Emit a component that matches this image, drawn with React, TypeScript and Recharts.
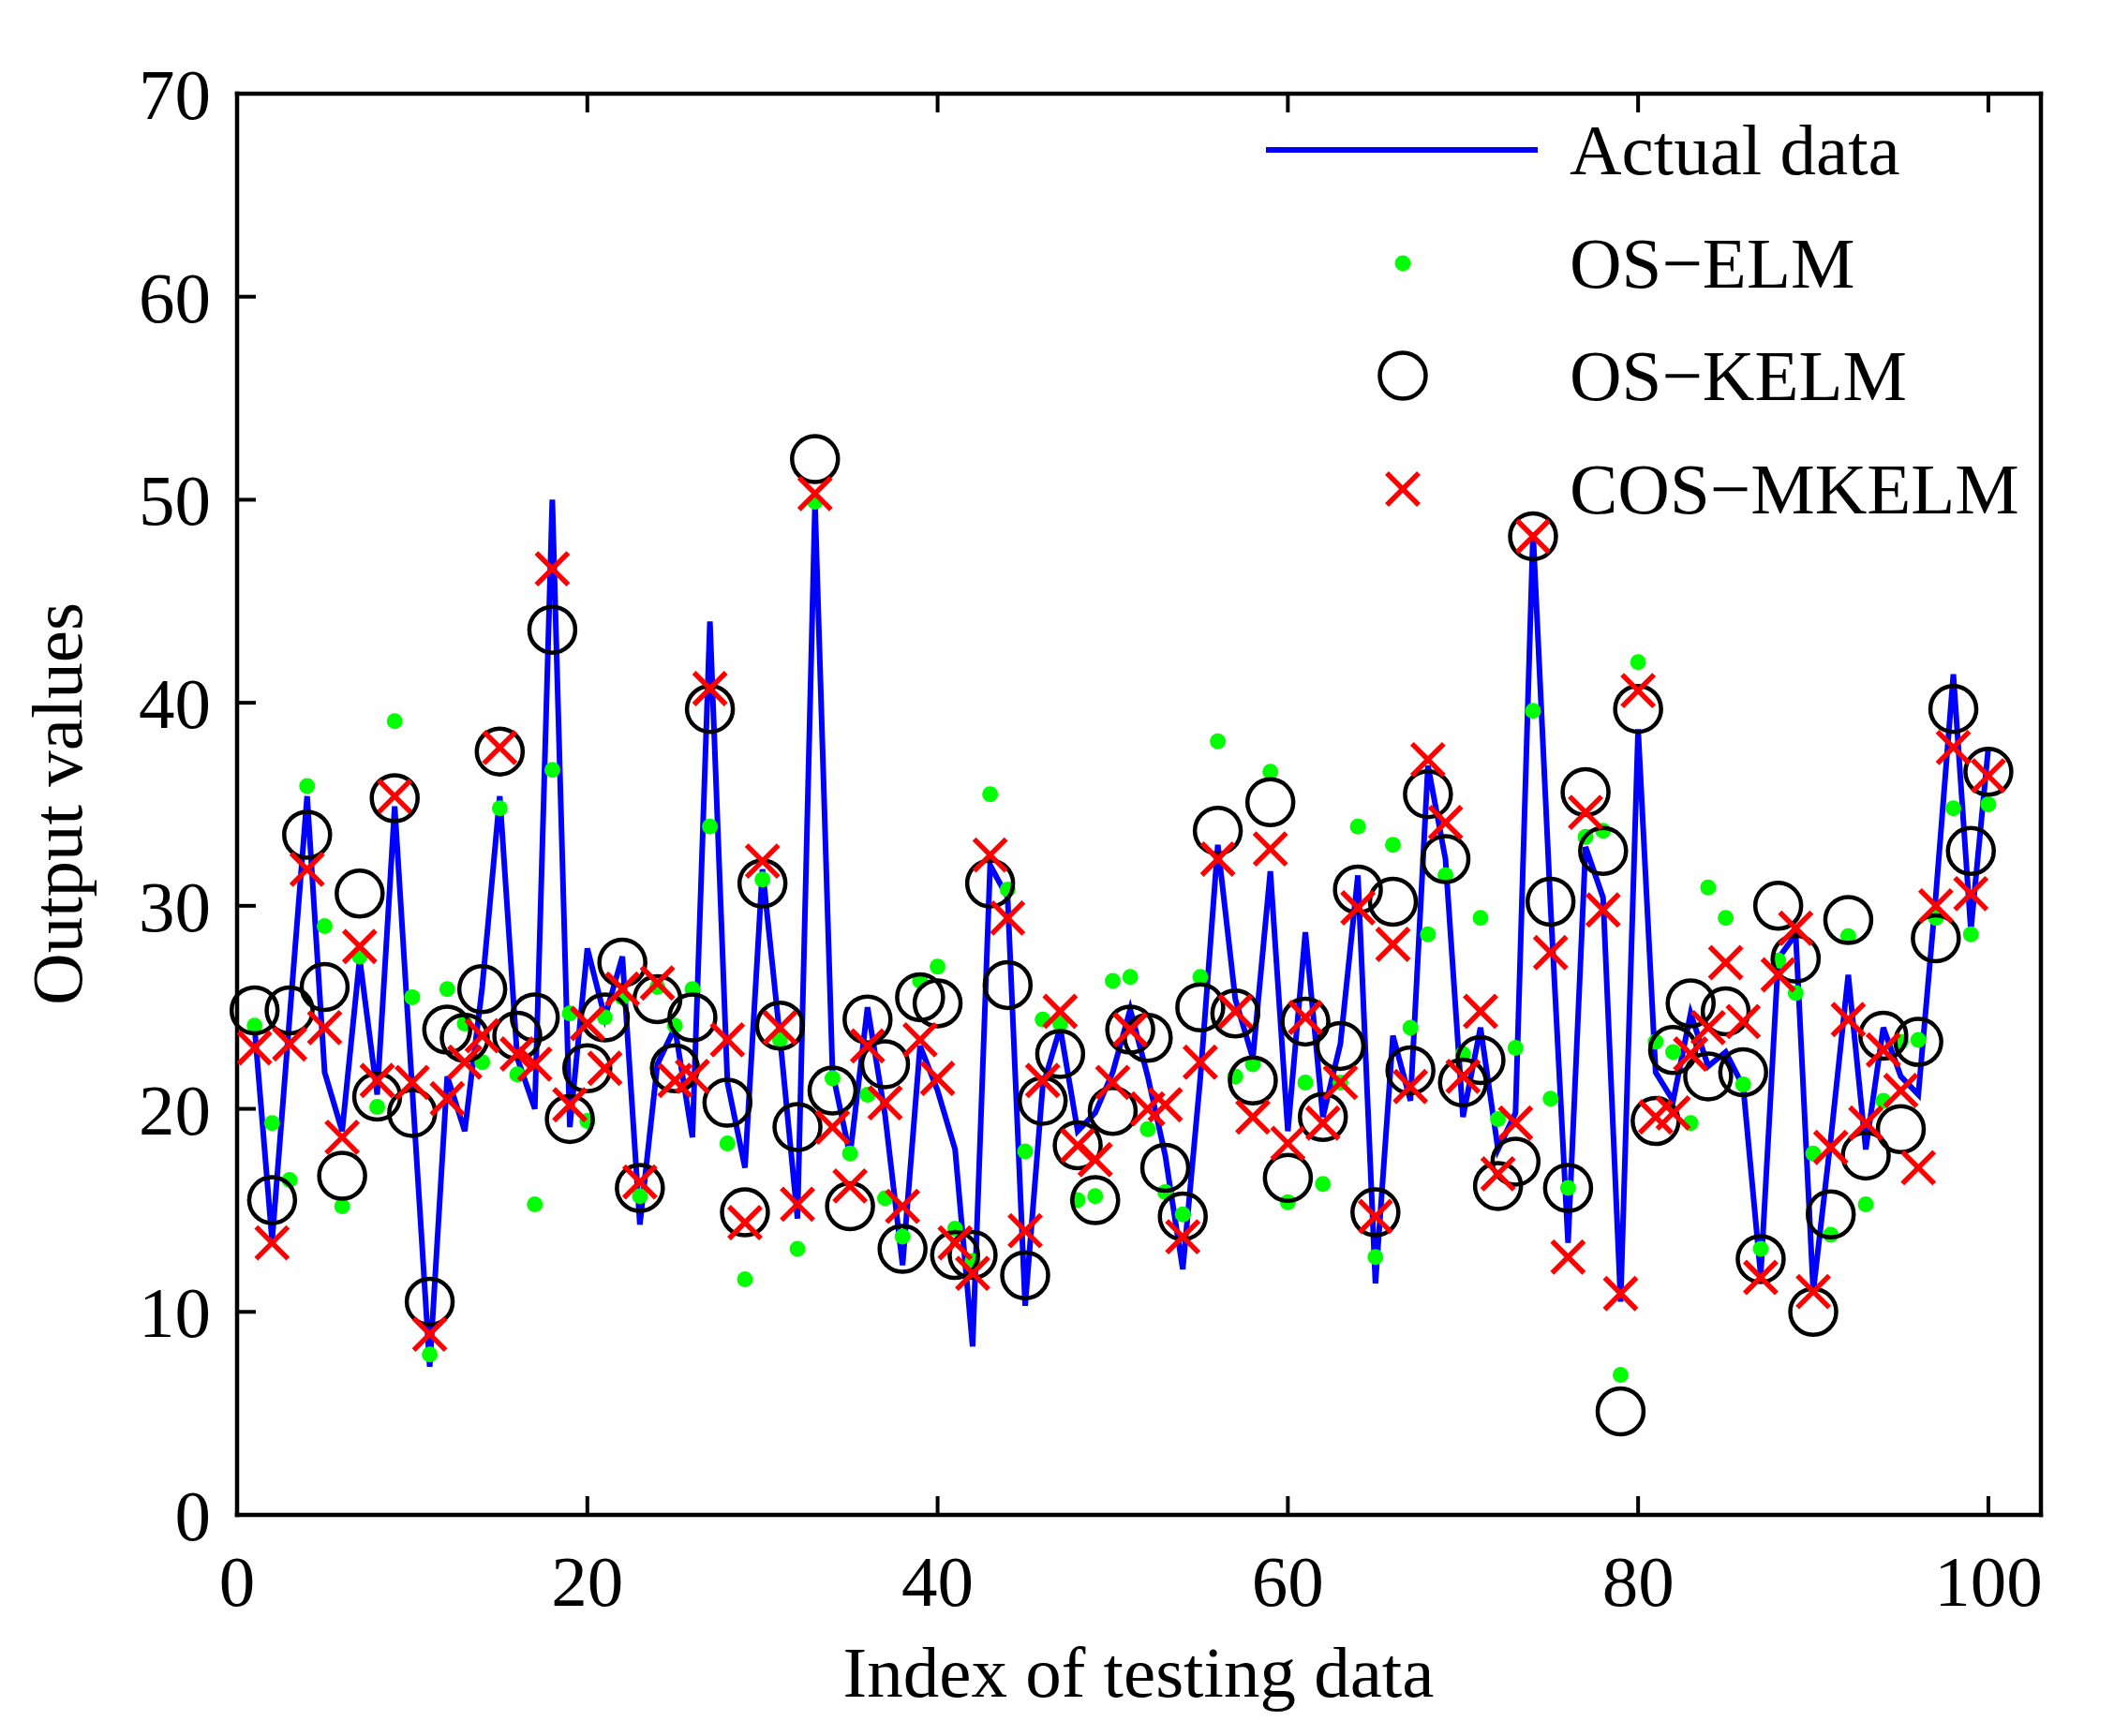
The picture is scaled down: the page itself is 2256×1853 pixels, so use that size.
import React from 'react';
import { LineChart, Line, XAxis, YAxis } from 'recharts';

// values, index 1..100
const actualData = [
  24.0, 13.5, 24.5, 35.4, 21.8, 18.9, 27.4, 20.7, 34.9, 21.0,
  7.3, 21.6, 18.9, 26.0, 35.4, 22.5, 20.0, 50.0, 19.1, 27.9,
  24.5, 27.5, 14.3, 22.2, 24.0, 18.6, 44.0, 21.3, 17.1, 31.8,
  23.5, 14.6, 49.8, 21.8, 17.7, 25.0, 19.7, 12.3, 23.1, 20.9,
  18.0, 8.3, 32.0, 30.4, 10.3, 21.1, 24.0, 18.9, 19.8, 21.8,
  24.9, 21.6, 17.7, 12.1, 21.5, 33.0, 25.4, 22.5, 31.7, 18.9,
  28.7, 19.6, 23.2, 31.5, 11.4, 23.6, 20.4, 36.9, 32.3, 19.6,
  24.0, 18.0, 19.8, 48.4, 30.0, 13.4, 32.9, 30.4, 10.5, 38.7,
  21.8, 20.4, 24.7, 22.1, 22.8, 21.1, 11.8, 27.4, 28.6, 11.0,
  18.5, 26.6, 18.0, 24.0, 21.6, 20.7, 30.5, 41.4, 28.8, 37.8,
];

const osElm = [
  24.1, 19.3, 16.5, 35.9, 29.0, 15.2, 27.5, 20.1, 39.1, 25.5,
  7.9, 25.9, 24.2, 22.3, 34.8, 21.7, 15.3, 36.7, 24.7, 19.4,
  24.5, 25.5, 15.7, 26.0, 24.1, 25.9, 33.9, 18.3, 11.6, 31.3,
  23.4, 13.1, 49.9, 21.5, 17.8, 20.7, 15.6, 13.7, 26.3, 27.0,
  14.1, 12.5, 35.5, 30.8, 17.9, 24.4, 24.2, 15.5, 15.7, 26.3,
  26.5, 19.0, 15.9, 14.8, 26.5, 38.1, 21.6, 22.2, 36.6, 15.4,
  21.3, 16.3, 21.3, 33.9, 12.7, 33.0, 24.0, 28.6, 31.5, 22.7,
  29.4, 19.5, 23.0, 39.6, 20.5, 16.1, 33.4, 33.7, 6.9, 42.0,
  23.3, 22.8, 19.3, 30.9, 29.4, 21.2, 13.1, 27.3, 25.7, 17.8,
  13.8, 28.5, 15.3, 20.4, 23.3, 23.4, 29.4, 34.8, 28.6, 35.0,
];

const osKelm = [
  24.85, 15.5, 24.85, 33.5, 26.0, 16.7, 30.6, 20.6, 35.3, 19.8,
  10.5, 23.9, 23.5, 25.9, 37.6, 23.6, 24.5, 43.6, 19.5, 22.0,
  24.5, 27.2, 16.1, 25.4, 22.0, 24.5, 39.7, 20.3, 14.9, 31.1,
  24.1, 19.1, 52.0, 20.9, 15.2, 24.4, 22.2, 13.1, 25.5, 25.2,
  12.8, 12.8, 31.1, 26.1, 11.8, 20.4, 22.7, 18.2, 15.5, 19.9,
  23.9, 23.5, 17.1, 14.7, 25.0, 33.7, 24.7, 21.4, 35.1, 16.6,
  24.3, 19.6, 23.1, 30.8, 14.9, 30.2, 21.9, 35.5, 32.3, 21.3,
  22.4, 16.2, 17.4, 48.2, 30.2, 16.1, 35.6, 32.7, 5.1, 39.7,
  19.4, 22.9, 25.2, 21.6, 24.8, 21.8, 12.6, 30.0, 27.4, 10.0,
  14.8, 29.3, 17.7, 23.6, 19.0, 23.3, 28.4, 39.7, 32.7, 36.6,
];

const cosMkelm = [
  23.0, 13.4, 23.2, 31.8, 24.0, 18.6, 28.0, 21.4, 35.4, 21.3,
  8.9, 20.5, 22.3, 23.6, 37.8, 22.7, 22.2, 46.6, 20.2, 24.2,
  22.0, 25.9, 16.4, 26.2, 21.4, 21.6, 40.7, 23.4, 14.4, 32.2,
  24.0, 15.3, 50.3, 19.1, 16.2, 23.1, 20.3, 15.2, 23.4, 21.5,
  13.4, 11.9, 32.5, 29.4, 14.0, 21.4, 24.8, 18.2, 17.5, 21.3,
  23.9, 20.0, 20.2, 13.7, 22.3, 32.3, 24.8, 19.6, 32.8, 18.3,
  24.5, 19.3, 21.3, 29.9, 14.7, 28.1, 21.1, 37.2, 34.1, 21.6,
  24.8, 16.8, 19.3, 48.2, 27.7, 12.7, 34.6, 29.8, 10.9, 40.6,
  19.6, 19.8, 22.7, 24.0, 27.2, 24.3, 11.7, 26.6, 28.9, 11.0,
  18.1, 24.4, 19.3, 22.9, 20.9, 17.1, 30.0, 37.8, 30.6, 36.4,
];

const xTicks = [0, 20, 40, 60, 80, 100];
const yTicks = [0, 10, 20, 30, 40, 50, 60, 70];

const FONT = "'Liberation Serif', 'Times New Roman', serif";
const FS = 77;
const TICK = 20;

const rows = actualData.map((v, i) => ({
  idx: i + 1,
  actual: v,
  elm: osElm[i],
  kelm: osKelm[i],
  mkelm: cosMkelm[i],
}));

const axisLine = { stroke: '#000', strokeWidth: 4.5, strokeLinecap: 'square' as const };

const BottomTick = (p: any) => (
  <g>
    <line x1={p.x} y1={p.y} x2={p.x} y2={p.y - TICK} stroke="#000" strokeWidth={4} />
    <text x={p.x} y={p.y + 97} textAnchor="middle" fontSize={FS} fontFamily={FONT} fill="#000">
      {p.payload.value}
    </text>
  </g>
);

const TopTick = (p: any) => (
  <line x1={p.x} y1={p.y} x2={p.x} y2={p.y + TICK} stroke="#000" strokeWidth={4} />
);

const LeftTick = (p: any) => (
  <g>
    <line x1={p.x} y1={p.y} x2={p.x + TICK} y2={p.y} stroke="#000" strokeWidth={4} />
    <text x={225} y={p.y + 27} textAnchor="end" fontSize={FS} fontFamily={FONT} fill="#000">
      {p.payload.value}
    </text>
  </g>
);

const RightTick = (p: any) => (
  <line x1={p.x} y1={p.y} x2={p.x - TICK} y2={p.y} stroke="#000" strokeWidth={4} />
);

const greenDot = (cx: number, cy: number, key?: string) => (
  <circle key={key} cx={cx} cy={cy} r={8.5} fill="#00ff00" />
);
const ring = (cx: number, cy: number, key?: string) => (
  <circle key={key} cx={cx} cy={cy} r={24.5} fill="none" stroke="#000" strokeWidth={4.5} />
);
const cross = (cx: number, cy: number, key?: string) => (
  <g key={key}>
    <line x1={cx - 17} y1={cy - 17} x2={cx + 17} y2={cy + 17} stroke="#ff0000" strokeWidth={5.5} />
    <line x1={cx - 17} y1={cy + 17} x2={cx + 17} y2={cy - 17} stroke="#ff0000" strokeWidth={5.5} />
  </g>
);

const dotRenderer = (draw: typeof ring, name: string) => (props: any) => {
  const { cx, cy, index } = props;
  if (cx == null || cy == null) return <g key={`${name}-${index}`} />;
  return draw(cx, cy, `${name}-${index}`);
};

const legendRows = [
  { label: 'Actual data', y: 160 },
  { label: 'OS\u2212ELM', y: 281 },
  { label: 'OS\u2212KELM', y: 401 },
  { label: 'COS\u2212MKELM', y: 522 },
];

export default function App() {
  return (
    <div style={{ position: 'absolute', left: 0, top: 0, width: 2256, height: 1853, background: '#fff' }}>
      <LineChart
        width={2256}
        height={1853}
        data={rows}
        margin={{ top: 99, right: 77, bottom: 235, left: 252 }}
      >
        <XAxis
          dataKey="idx"
          type="number"
          domain={[0, 103]}
          ticks={xTicks}
          interval={0}
          height={1}
          tickSize={0}
          tickMargin={0}
          tickLine={false}
          axisLine={axisLine}
          tick={BottomTick}
        />
        <XAxis
          xAxisId="top"
          orientation="top"
          dataKey="idx"
          type="number"
          domain={[0, 103]}
          ticks={xTicks}
          interval={0}
          height={1}
          tickSize={0}
          tickMargin={0}
          tickLine={false}
          axisLine={axisLine}
          tick={TopTick}
        />
        <YAxis
          type="number"
          domain={[0, 70]}
          ticks={yTicks}
          interval={0}
          width={1}
          tickSize={0}
          tickMargin={0}
          tickLine={false}
          axisLine={axisLine}
          tick={LeftTick}
        />
        <YAxis
          yAxisId="right"
          orientation="right"
          type="number"
          domain={[0, 70]}
          ticks={yTicks}
          interval={0}
          width={1}
          tickSize={0}
          tickMargin={0}
          tickLine={false}
          axisLine={axisLine}
          tick={RightTick}
        />
        <Line
          dataKey="actual"
          stroke="#0000ff"
          strokeWidth={6}
          dot={false}
          activeDot={false}
          isAnimationActive={false}
        />
        <Line
          dataKey="elm"
          stroke="none"
          dot={dotRenderer(greenDot, 'elm')}
          activeDot={false}
          isAnimationActive={false}
        />
        <Line
          dataKey="kelm"
          stroke="none"
          dot={dotRenderer(ring, 'kelm')}
          activeDot={false}
          isAnimationActive={false}
        />
        <Line
          dataKey="mkelm"
          stroke="none"
          dot={dotRenderer(cross, 'mkelm')}
          activeDot={false}
          isAnimationActive={false}
        />
      </LineChart>

      {/* axis titles and legend drawn over the chart */}
      <svg
        width={2256}
        height={1853}
        style={{ position: 'absolute', left: 0, top: 0, pointerEvents: 'none' }}
      >
        <text x={1215} y={1811} textAnchor="middle" fontSize={FS} fontFamily={FONT} fill="#000">
          Index of testing data
        </text>
        <text
          x={87}
          y={858}
          textAnchor="middle"
          fontSize={FS}
          fontFamily={FONT}
          fill="#000"
          transform="rotate(-90, 87, 858)"
        >
          Output values
        </text>
        <line x1={1351} y1={160} x2={1641} y2={160} stroke="#0000ff" strokeWidth={6} />
        {greenDot(1497, 281)}
        {ring(1497, 401)}
        {cross(1497, 522)}
        {legendRows.map((r) => (
          <text key={r.label} x={1675} y={r.y + 26} fontSize={FS} fontFamily={FONT} fill="#000">
            {r.label}
          </text>
        ))}
      </svg>
    </div>
  );
}
